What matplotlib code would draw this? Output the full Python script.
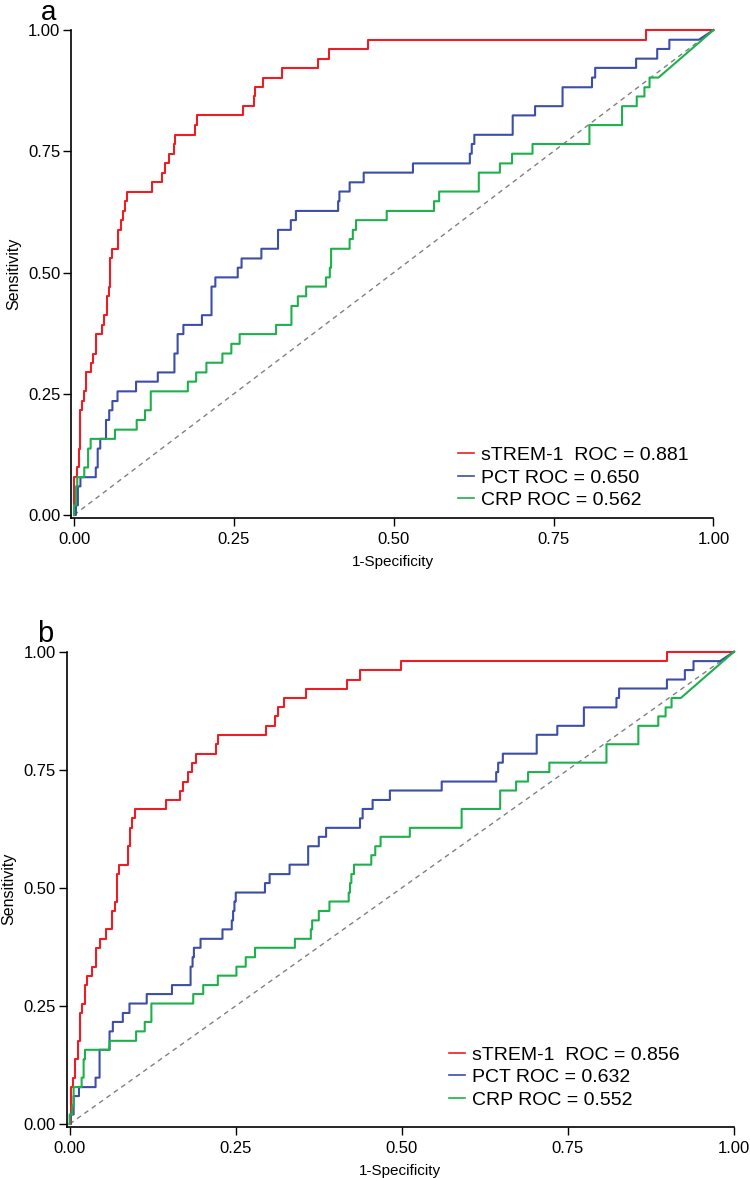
import matplotlib
matplotlib.use("Agg")
import matplotlib.pyplot as plt

plt.rcParams['font.family'] = ['Liberation Sans', 'DejaVu Sans']

# ---- panel a : ROC step corners (fpr where the step rises, tpr it rises to)
a_strem_fpr = [0.000, 0.004, 0.008, 0.010, 0.012, 0.016, 0.019, 0.026, 0.030, 0.034,
               0.043, 0.047, 0.051, 0.054, 0.056, 0.060, 0.069, 0.073, 0.076, 0.080,
               0.083, 0.122, 0.138, 0.142, 0.149, 0.156, 0.158, 0.189, 0.192, 0.265,
               0.281, 0.283, 0.295, 0.325, 0.382, 0.398, 0.460, 0.895]
a_strem_tpr = [0.078, 0.098, 0.137, 0.216, 0.235, 0.255, 0.294, 0.314, 0.333, 0.373,
               0.392, 0.412, 0.451, 0.471, 0.529, 0.549, 0.588, 0.608, 0.627, 0.647,
               0.667, 0.686, 0.706, 0.725, 0.745, 0.765, 0.784, 0.804, 0.824, 0.843,
               0.863, 0.882, 0.902, 0.922, 0.941, 0.961, 0.980, 1.000]

a_pct_fpr = [0.003, 0.006, 0.010, 0.034, 0.037, 0.041, 0.050, 0.055, 0.060, 0.068,
             0.097, 0.131, 0.157, 0.162, 0.171, 0.200, 0.215, 0.221, 0.256, 0.262,
             0.293, 0.319, 0.339, 0.347, 0.413, 0.415, 0.431, 0.453, 0.530, 0.619,
             0.622, 0.626, 0.686, 0.721, 0.764, 0.810, 0.815, 0.879, 0.912, 0.931, 0.977]
a_pct_tpr = [0.020, 0.059, 0.078, 0.098, 0.137, 0.157, 0.196, 0.216, 0.235, 0.255,
             0.275, 0.294, 0.333, 0.373, 0.392, 0.412, 0.471, 0.490, 0.510, 0.529,
             0.549, 0.588, 0.608, 0.627, 0.647, 0.667, 0.686, 0.706, 0.725, 0.745,
             0.765, 0.784, 0.824, 0.843, 0.882, 0.902, 0.922, 0.941, 0.961, 0.980, 0.980]

a_crp_fpr = [0.000, 0.003, 0.005, 0.016, 0.022, 0.026, 0.064, 0.098, 0.111, 0.120,
             0.178, 0.191, 0.207, 0.232, 0.246, 0.259, 0.316, 0.340, 0.350, 0.363,
             0.394, 0.400, 0.402, 0.431, 0.436, 0.441, 0.489, 0.563, 0.571, 0.633,
             0.666, 0.685, 0.717, 0.806, 0.857, 0.880, 0.892, 0.900, 0.914]
a_crp_tpr = [0.020, 0.059, 0.078, 0.098, 0.137, 0.157, 0.176, 0.196, 0.216, 0.255,
             0.275, 0.294, 0.314, 0.333, 0.353, 0.373, 0.392, 0.431, 0.451, 0.471,
             0.490, 0.510, 0.549, 0.569, 0.588, 0.608, 0.627, 0.647, 0.667, 0.706,
             0.725, 0.745, 0.765, 0.804, 0.843, 0.863, 0.882, 0.902, 0.902]

# ---- panel b
b_strem_fpr = [0.002, 0.005, 0.008, 0.013, 0.015, 0.019, 0.023, 0.026, 0.033, 0.040,
               0.045, 0.055, 0.064, 0.068, 0.071, 0.074, 0.088, 0.091, 0.094, 0.098,
               0.145, 0.166, 0.171, 0.178, 0.184, 0.190, 0.220, 0.223, 0.296, 0.309,
               0.314, 0.323, 0.356, 0.418, 0.437, 0.499, 0.899]
b_strem_tpr = [0.078, 0.098, 0.137, 0.176, 0.235, 0.255, 0.294, 0.314, 0.333, 0.373,
               0.392, 0.412, 0.451, 0.471, 0.529, 0.549, 0.588, 0.627, 0.647, 0.667,
               0.686, 0.706, 0.725, 0.745, 0.765, 0.784, 0.804, 0.824, 0.843, 0.863,
               0.882, 0.902, 0.922, 0.941, 0.961, 0.980, 1.000]

b_pct_fpr = [0.001, 0.006, 0.014, 0.039, 0.045, 0.060, 0.065, 0.080, 0.090, 0.116,
             0.154, 0.182, 0.185, 0.187, 0.197, 0.230, 0.244, 0.246, 0.248, 0.250,
             0.294, 0.301, 0.331, 0.359, 0.375, 0.386, 0.437, 0.441, 0.456, 0.482,
             0.560, 0.642, 0.645, 0.652, 0.703, 0.734, 0.774, 0.823, 0.827, 0.899,
             0.926, 0.939, 0.979]
b_pct_tpr = [0.020, 0.059, 0.078, 0.098, 0.157, 0.196, 0.216, 0.235, 0.255, 0.275,
             0.294, 0.333, 0.353, 0.373, 0.392, 0.412, 0.431, 0.451, 0.471, 0.490,
             0.510, 0.529, 0.549, 0.588, 0.608, 0.627, 0.647, 0.667, 0.686, 0.706,
             0.725, 0.745, 0.765, 0.784, 0.824, 0.843, 0.882, 0.902, 0.922, 0.941,
             0.961, 0.980, 0.980]

b_crp_fpr = [0.000, 0.004, 0.006, 0.018, 0.021, 0.023, 0.060, 0.100, 0.113, 0.123,
             0.186, 0.201, 0.223, 0.251, 0.265, 0.279, 0.339, 0.363, 0.365, 0.375,
             0.391, 0.420, 0.422, 0.424, 0.428, 0.454, 0.460, 0.468, 0.512, 0.590,
             0.648, 0.672, 0.690, 0.722, 0.808, 0.856, 0.886, 0.897, 0.906, 0.920]
b_crp_tpr = [0.020, 0.039, 0.078, 0.098, 0.137, 0.157, 0.176, 0.196, 0.216, 0.255,
             0.275, 0.294, 0.314, 0.333, 0.353, 0.373, 0.392, 0.412, 0.431, 0.451,
             0.471, 0.490, 0.510, 0.529, 0.549, 0.569, 0.588, 0.608, 0.627, 0.667,
             0.706, 0.725, 0.745, 0.765, 0.804, 0.843, 0.863, 0.882, 0.902, 0.902]

labels_a = ["sTREM-1  ROC = 0.881", "PCT ROC = 0.650", "CRP ROC = 0.562"]
labels_b = ["sTREM-1  ROC = 0.856", "PCT ROC = 0.632", "CRP ROC = 0.552"]
colors = ["#EE1C25", "#3C4EA6", "#1DB14B"]
ticks = [0, 0.25, 0.5, 0.75, 1.0]
tick_labels = ["0.00", "0.25", "0.50", "0.75", "1.00"]


def stairs(xs, ys):
    # expand step corners into a staircase path from (0,0) to (1,1)
    px, py = [0.0], [0.0]
    for x, y in zip(xs, ys):
        px += [x, x]
        py += [py[-1], y]
    px.append(1.0)
    py.append(1.0)
    return px, py


def draw_panel(ax, curves, labels, xlim0, ylim0, leg_anchor):
    ax.plot([0, 1], [0, 1], color="#808080", lw=1.0, linestyle=(0, (3.5, 3)), zorder=1)
    for (fx, ty), lab, c in zip(curves, labels, colors):
        px, py = stairs(fx, ty)
        ax.plot(px, py, color=c, lw=1.5, label=lab, clip_on=False, zorder=2)
    ax.set_xlim(xlim0, 1.0)
    ax.set_ylim(ylim0, 1.0)
    ax.set_xticks(ticks)
    ax.set_xticklabels(tick_labels)
    ax.set_yticks(ticks)
    ax.set_yticklabels(tick_labels)
    for s in ["top", "right"]:
        ax.spines[s].set_visible(False)
    for s in ["left", "bottom"]:
        ax.spines[s].set_linewidth(1.2)
    ax.tick_params(axis="both", length=6, width=1.0, labelsize=12)
    ax.tick_params(axis="x", pad=4)
    ax.tick_params(axis="y", pad=2)
    ax.set_xlabel("1-Specificity", fontsize=11, labelpad=6)
    ax.set_ylabel("Sensitivity", fontsize=11.5, labelpad=5)
    leg = ax.legend(loc="upper left", bbox_to_anchor=leg_anchor, frameon=False,
                    fontsize=14, handlelength=0.8, handletextpad=0.4,
                    labelspacing=0.25, borderpad=0, borderaxespad=0)
    for h in leg.get_lines():
        h.set_linewidth(1.2)


fig = plt.figure(figsize=(7.5, 11.78), dpi=100)
ax1 = fig.add_axes([0.0953, 0.5605, 0.856, 0.414])
ax2 = fig.add_axes([0.0889, 0.0436, 0.8898, 0.4032])

draw_panel(ax1, [(a_strem_fpr, a_strem_tpr), (a_pct_fpr, a_pct_tpr), (a_crp_fpr, a_crp_tpr)],
           labels_a, -0.004, -0.0056, (0.602, 0.146))
draw_panel(ax2, [(b_strem_fpr, b_strem_tpr), (b_pct_fpr, b_pct_tpr), (b_crp_fpr, b_crp_tpr)],
           labels_b, -0.0045, -0.0057, (0.573, 0.1695))

# panel letters
fig.text(0.065, 1 - 20 / 1178, "a", fontsize=20, ha="center", va="baseline")
fig.text(0.060, 1 - 642 / 1178, "b", fontsize=21, ha="center", va="baseline")

fig.savefig("out.png", dpi=100)
